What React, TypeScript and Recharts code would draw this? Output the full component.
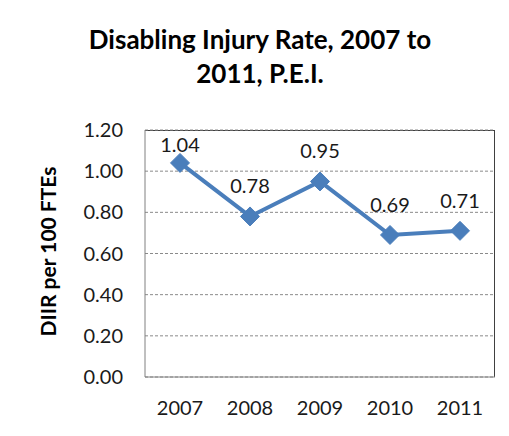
import React from "react"
import { LineChart, Line, XAxis, YAxis, CartesianGrid, LabelList } from "recharts"

// Taux de blessures invalidantes, Î.-P.-É.
const years = ["2007", "2008", "2009", "2010", "2011"]
const rates = [1.04, 0.78, 0.95, 0.69, 0.71]
const yTicks = [0, 0.2, 0.4, 0.6, 0.8, 1.0, 1.2]

const data = years.map((year, i) => ({ year, rate: rates[i] }))

const FONT = "Lato, 'Open Sans', sans-serif"
const BLUE = "#4a7ebb"

// zone de tracé (marges du graphique)
const PLOT = { left: 145, top: 130, right: 14, bottom: 29, xAxisH: 30 }
const W = 509
const H = 436

const Diamond = (props: any) => {
  const { cx, cy, index } = props
  if (cx == null || cy == null) return null
  const r = 9.5
  return (
    <path
      key={`d-${index}`}
      d={`M${cx},${cy - r} L${cx + r},${cy} L${cx},${cy + r} L${cx - r},${cy} Z`}
      fill={BLUE}
      stroke={BLUE}
    />
  )
}

// étiquette au-dessus du point, gardée dans la zone de tracé (comme Excel)
const PointLabel = (props: any) => {
  const { x, y, value, index } = props
  if (x == null || y == null) return null
  const baseline = Math.max(y - 23, PLOT.top + 22)
  return (
    <text
      key={`l-${index}`}
      x={x}
      y={baseline}
      textAnchor="middle"
      fontFamily={FONT}
      fontSize={20}
      fill="#1a1a1a"
    >
      {Number(value).toFixed(2)}
    </text>
  )
}

const YTitle = (props: any) => {
  const vb = props.viewBox || {}
  const cy = (vb.y ?? 130) + (vb.height ?? 247) / 2 - 2
  const cx = 47
  return (
    <text
      x={cx}
      y={cy}
      transform={`rotate(-90, ${cx}, ${cy})`}
      textAnchor="middle"
      dominantBaseline="central"
      fontFamily={FONT}
      fontWeight="bold"
      fontSize={21}
      fill="#000"
    >
      DIIR per 100 FTEs
    </text>
  )
}

export default function App() {
  const plotW = W - PLOT.left - PLOT.right
  const plotH = H - PLOT.top - PLOT.bottom - PLOT.xAxisH
  return (
    <div
      style={{
        position: "relative",
        width: W,
        height: H,
        marginTop: -8,
        marginLeft: -8,
        overflow: "hidden",
        background: "#fff",
      }}
    >
      <div
        style={{
          position: "absolute",
          left: 5,
          top: 5,
          width: 520,
          height: 450,
          border: "2px solid #878787",
        }}
      />
      <div
        style={{
          position: "absolute",
          left: 0,
          top: 22,
          width: 520,
          textAlign: "center",
          fontFamily: FONT,
          fontWeight: "bold",
          fontSize: 26,
          lineHeight: "34px",
          color: "#000",
        }}
      >
        Disabling Injury Rate, 2007 to
        <br />
        2011, P.E.I.
      </div>
      <div
        style={{
          position: "absolute",
          left: PLOT.left,
          top: PLOT.top,
          width: plotW,
          height: plotH,
          boxSizing: "border-box",
          borderTop: "1px solid #404040",
          borderRight: "1px solid #404040",
        }}
      />
      <div style={{ position: "absolute", left: 0, top: 0 }}>
        <LineChart
          width={W}
          height={H}
          data={data}
          margin={{ top: PLOT.top, right: PLOT.right, bottom: PLOT.bottom, left: 0 }}
        >
          <CartesianGrid
            horizontal
            vertical={false}
            stroke="#8a8a8a"
            strokeDasharray="3 2"
          />
          <XAxis
            dataKey="year"
            height={PLOT.xAxisH}
            padding={{ left: 35, right: 35 }}
            tickLine={false}
            tickMargin={18}
            axisLine={{ stroke: "#808080" }}
            tick={{ fontFamily: FONT, fontSize: 20, fill: "#1a1a1a" }}
          />
          <YAxis
            width={PLOT.left}
            domain={[0, 1.2]}
            ticks={yTicks}
            interval={0}
            tickFormatter={(v: number) => v.toFixed(2)}
            tickLine={false}
            tickMargin={16}
            axisLine={{ stroke: "#808080" }}
            tick={{ fontFamily: FONT, fontSize: 20, fill: "#1a1a1a" }}
            label={<YTitle />}
          />
          <Line
            type="linear"
            dataKey="rate"
            stroke={BLUE}
            strokeWidth={4}
            dot={<Diamond />}
            activeDot={false}
            isAnimationActive={false}
          >
            <LabelList dataKey="rate" content={<PointLabel />} />
          </Line>
        </LineChart>
      </div>
    </div>
  )
}
